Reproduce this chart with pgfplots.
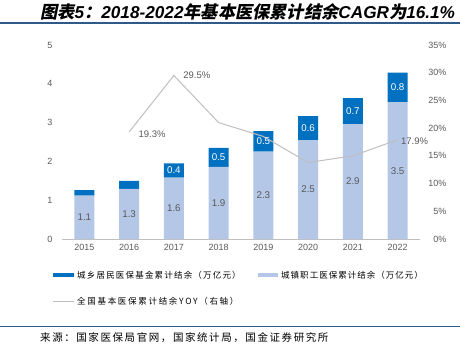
\documentclass[border=0pt]{standalone}
\usepackage{pgfplots}
\pgfplotsset{compat=1.18}
\usepackage{fontspec}
\setmainfont{Liberation Sans}
\newfontfamily\cjk{Noto Sans CJK SC}
\newfontfamily\cjkleg[LetterSpace=14]{Noto Sans CJK SC}
\newfontfamily\cjklegb[LetterSpace=12]{Noto Sans CJK SC}
\newfontfamily\cjklegc[LetterSpace=20]{Noto Sans CJK SC}
\newfontfamily\cjksrc[LetterSpace=15]{Noto Sans CJK SC}
\newfontfamily\titlecjk[FakeSlant=0.2]{Noto Sans CJK SC}
\definecolor{darkbar}{HTML}{0070C0}
\definecolor{lightbar}{HTML}{B4C7E7}
\definecolor{linegray}{HTML}{BFBFBF}
\definecolor{ticktext}{HTML}{595959}
\definecolor{rule}{HTML}{2E5A88}
\tikzset{
  lablight/.style={font=\fontsize{9.8}{10}\selectfont, text=ticktext},
  labdark/.style={font=\fontsize{9.8}{10}\selectfont, text=white},
  labline/.style={font=\fontsize{9.5}{10}\selectfont, text=ticktext, anchor=west},
}
\begin{document}
\begin{tikzpicture}[x=1pt,y=1pt]
\useasboundingbox (0,0) rectangle (460,346);
% title
\node[anchor=west, inner sep=0] at (40,334) {\fontsize{17.2}{17}\selectfont{\titlecjk\bfseries 图表}{\bfseries\itshape 5}{\titlecjk\bfseries ：}{\bfseries\itshape 2018-2022}{\titlecjk\bfseries 年基本医保累计结余}{\bfseries\itshape CAGR}{\titlecjk\bfseries 为}{\bfseries\itshape 16.1\%}};
\draw[rule, line width=1.2pt] (0,323) -- (460,323);
% bars
\begin{axis}[
  at={(62pt,107pt)}, anchor=south west, scale only axis,
  width=358pt, height=194pt,
  ybar stacked, bar width=20pt,
  xmin=-0.5, xmax=7.5, ymin=0, ymax=5,
  axis x line*=bottom, axis y line*=left,
  x axis line style={draw=linegray, line width=0.6pt},
  y axis line style={draw=none},
  major tick length=0pt,
  xtick={0,...,7}, xticklabels={2015,2016,2017,2018,2019,2020,2021,2022},
  ytick={0,1,2,3,4,5},
  /pgf/number format/assume math mode=true,
  tick label style={font=\fontsize{9}{9}\selectfont, color=ticktext},
  yticklabel style={xshift=-6pt},
  xticklabel style={yshift=-2pt},
  clip=false,
]
\addplot[fill=lightbar, draw=none] coordinates {(0,1.12)(1,1.29)(2,1.58)(3,1.86)(4,2.25)(5,2.55)(6,2.96)(7,3.52)};
\addplot[fill=darkbar, draw=none] coordinates {(0,0.14)(1,0.21)(2,0.37)(3,0.49)(4,0.53)(5,0.62)(6,0.67)(7,0.77)};
\end{axis}
% line on right axis (bar labels placed here so they sit above the bars; y scaled x7)
\begin{axis}[
  at={(62pt,107pt)}, anchor=south west, scale only axis,
  width=358pt, height=194pt,
  xmin=-0.5, xmax=7.5, ymin=0, ymax=35,
  axis x line=none, axis y line*=right,
  y axis line style={draw=none},
  major tick length=0pt,
  ytick={0,5,...,35},
  yticklabel={\pgfmathprintnumber{\tick}\%},
  /pgf/number format/assume math mode=true,
  tick label style={font=\fontsize{9}{9}\selectfont, color=ticktext},
  yticklabel style={anchor=east, xshift=30pt},
  clip=false,
]
\addplot[color=linegray, line width=1pt, mark=none] coordinates {(1,19.3)(2,29.5)(3,21.0)(4,18.5)(5,13.8)(6,15.0)(7,17.9)};
\node[labline, xshift=6pt, yshift=-2pt] at (axis cs:1,19.3) {19.3\%};
\node[labline, xshift=6pt] at (axis cs:2,29.5) {29.5\%};
\node[labline, xshift=0pt, yshift=-1pt] at (axis cs:7,17.9) {17.9\%};
\node[lablight] at (axis cs:0,3.92) {1.1};
\node[lablight] at (axis cs:1,4.515) {1.3};
\node[lablight] at (axis cs:2,5.53) {1.6};
\node[lablight] at (axis cs:3,6.51) {1.9};
\node[lablight] at (axis cs:4,7.875) {2.3};
\node[lablight] at (axis cs:5,8.925) {2.5};
\node[lablight] at (axis cs:6,10.36) {2.9};
\node[lablight] at (axis cs:7,12.32) {3.5};
\node[labdark] at (axis cs:2,12.355) {0.4};
\node[labdark] at (axis cs:3,14.735) {0.5};
\node[labdark] at (axis cs:4,17.605) {0.5};
\node[labdark] at (axis cs:5,20.02) {0.6};
\node[labdark] at (axis cs:6,23.065) {0.7};
\node[labdark] at (axis cs:7,27.335) {0.8};
\end{axis}
% legend
\draw[darkbar, line width=3.5pt] (53,71) -- (74,71);
\node[anchor=west, inner sep=0] at (77,71) {\cjkleg\fontsize{8.5}{9}\selectfont 城乡居民医保基金累计结余（万亿元）};
\draw[lightbar, line width=3.5pt] (258,71) -- (278,71);
\node[anchor=west, inner sep=0] at (281,71) {\cjklegb\fontsize{8.5}{9}\selectfont 城镇职工医保累计结余（万亿元）};
\draw[linegray, line width=1pt] (53,45) -- (74,45);
\node[anchor=west, inner sep=0] at (77,45) {\cjklegc\fontsize{8.5}{9}\selectfont 全国基本医保累计结余YOY（右轴）};
% bottom rule and source
\draw[rule, line width=1pt] (0,20) -- (460,20);
\node[anchor=west, inner sep=0] at (40,8) {\cjksrc\fontsize{10.5}{11}\selectfont 来源：国家医保局官网，国家统计局，国金证券研究所};
\end{tikzpicture}
\end{document}
